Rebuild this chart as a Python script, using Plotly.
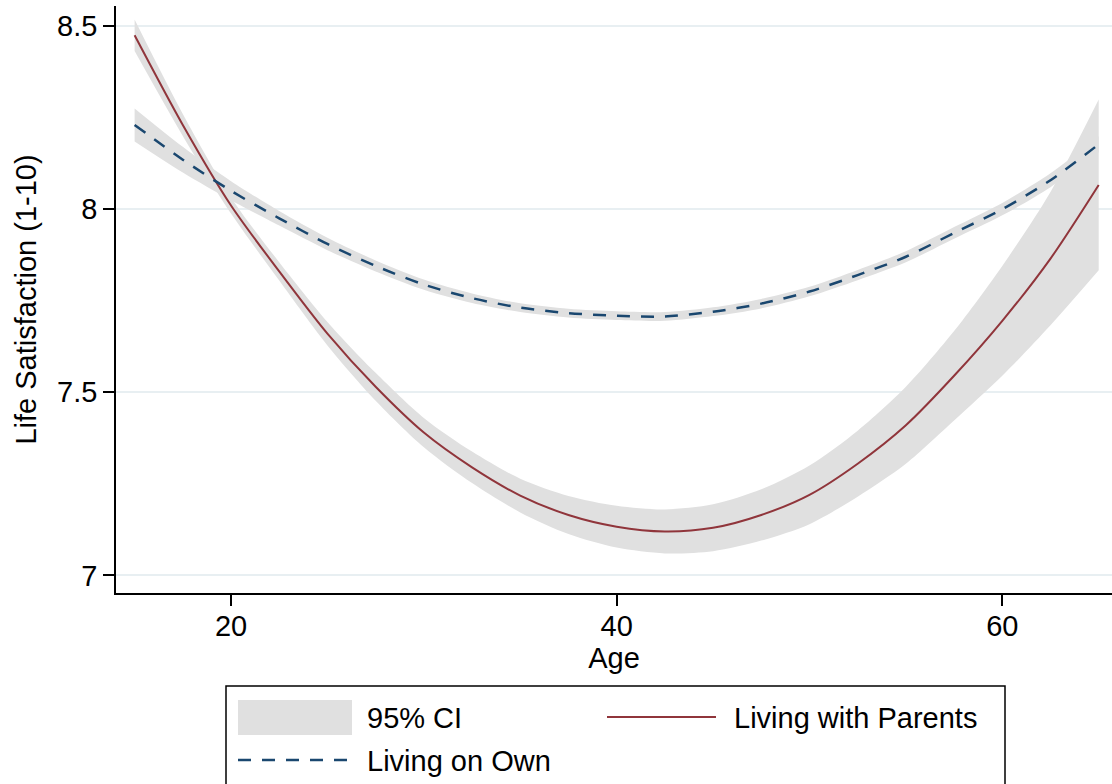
import plotly.graph_objects as go

# ---------------- data ----------------
ages = [15, 17.5, 20, 22.5, 25, 27.5, 30, 32.5, 35, 37.5, 40,
        42.5, 45, 47.5, 50, 52.5, 55, 57.5, 60, 62.5, 65]

# Living with Parents: fitted value and 95% CI half-width
parents = [8.475, 8.23, 8.01, 7.83, 7.66, 7.515, 7.39, 7.295, 7.218, 7.165, 7.133,
           7.120, 7.130, 7.165, 7.220, 7.305, 7.410, 7.545, 7.695, 7.865, 8.066]
parents_ci = [0.043, 0.030, 0.022, 0.025, 0.032, 0.038, 0.040, 0.043, 0.046, 0.052, 0.057,
              0.060, 0.064, 0.070, 0.080, 0.090, 0.105, 0.122, 0.150, 0.182, 0.233]

# Living on Own: fitted value and 95% CI half-width
own = [8.230, 8.135, 8.050, 7.975, 7.905, 7.845, 7.794, 7.757, 7.731, 7.716, 7.709,
       7.707, 7.720, 7.742, 7.775, 7.820, 7.870, 7.935, 8.000, 8.079, 8.177]
own_ci = [0.045, 0.035, 0.026, 0.020, 0.017, 0.015, 0.014, 0.013, 0.012, 0.012, 0.012,
          0.012, 0.012, 0.013, 0.013, 0.014, 0.015, 0.016, 0.017, 0.019, 0.022]

x_ticks = [20, 40, 60]
y_ticks = [7, 7.5, 8, 8.5]
y_tick_labels = ["7", "7.5", "8", "8.5"]

legend_labels = ["95% CI", "Living with Parents", "Living on Own"]

# ---------------- style ----------------
W, H = 1112, 784
ML, MR, MT, MB = 116, 0, 6, 191
FONT = "Liberation Sans, Arial, Helvetica, sans-serif"
FS = 29
RED = "#90353b"
BLUE = "#1a476f"
CI_GRAY = "#e0e0e0"
GRID = "#e8eff2"

plot_w = W - ML - MR
plot_h = H - MT - MB


def px_x(px):
    return (px - ML) / plot_w


def px_y(py):
    return (H - MB - py) / plot_h


fig = go.Figure()


def add_band(mean, half):
    lo = [m - h for m, h in zip(mean, half)]
    hi = [m + h for m, h in zip(mean, half)]
    fig.add_trace(go.Scatter(x=ages, y=lo, mode="lines",
                             line=dict(width=0, shape="spline", smoothing=0.8),
                             hoverinfo="skip", showlegend=False))
    fig.add_trace(go.Scatter(x=ages, y=hi, mode="lines", fill="tonexty",
                             fillcolor=CI_GRAY,
                             line=dict(width=0, shape="spline", smoothing=0.8),
                             name=legend_labels[0], showlegend=False))


add_band(parents, parents_ci)
add_band(own, own_ci)

fig.add_trace(go.Scatter(x=ages, y=parents, mode="lines", name=legend_labels[1],
                         line=dict(color=RED, width=2, shape="spline", smoothing=0.8),
                         showlegend=False))
fig.add_trace(go.Scatter(x=ages, y=own, mode="lines", name=legend_labels[2],
                         line=dict(color=BLUE, width=2.5, dash="13px,11px",
                                   shape="spline", smoothing=0.8),
                         showlegend=False))

# ---------------- manual legend (Stata style) ----------------
shapes = [
    dict(type="rect", xref="paper", yref="paper",
         x0=px_x(226), x1=px_x(1005), y0=px_y(686), y1=px_y(810),
         line=dict(color="black", width=1.5), fillcolor="white", layer="above"),
    dict(type="rect", xref="paper", yref="paper",
         x0=px_x(238), x1=px_x(352), y0=px_y(700), y1=px_y(735),
         line=dict(width=0), fillcolor=CI_GRAY, layer="above"),
    dict(type="line", xref="paper", yref="paper",
         x0=px_x(607), x1=px_x(716), y0=px_y(717), y1=px_y(717),
         line=dict(color=RED, width=2), layer="above"),
    dict(type="line", xref="paper", yref="paper",
         x0=px_x(238), x1=px_x(352), y0=px_y(760), y1=px_y(760),
         line=dict(color=BLUE, width=2.5, dash="13px,11px"), layer="above"),
]

annotations = [
    dict(text=legend_labels[0], x=px_x(365), y=px_y(718)),
    dict(text=legend_labels[1], x=px_x(732), y=px_y(718)),
    dict(text=legend_labels[2], x=px_x(365), y=px_y(761)),
]
for a in annotations:
    a.update(xref="paper", yref="paper", xanchor="left", yanchor="middle",
             showarrow=False, font=dict(family=FONT, size=FS, color="black"))

fig.update_layout(
    width=W, height=H,
    margin=dict(l=ML, r=MR, t=MT, b=MB, pad=0),
    paper_bgcolor="white", plot_bgcolor="white",
    font=dict(family=FONT, size=FS, color="black"),
    showlegend=False,
    shapes=shapes,
    annotations=annotations,
    xaxis=dict(
        range=[14.035, 65.69], tickmode="array", tickvals=x_ticks,
        ticks="outside", ticklen=11, tickwidth=1.5, tickcolor="black",
        showline=True, linecolor="black", linewidth=1.5,
        showgrid=False, zeroline=False, automargin=False,
        tickfont=dict(family=FONT, size=FS), ticklabelstandoff=-5,
        title=dict(text="Age", font=dict(family=FONT, size=FS), standoff=0),
    ),
    yaxis=dict(
        range=[6.952, 8.5546], tickmode="array", tickvals=y_ticks,
        ticktext=y_tick_labels,
        ticks="outside", ticklen=11, tickwidth=1.5, tickcolor="black",
        showline=True, linecolor="black", linewidth=1.5,
        showgrid=True, gridcolor=GRID, gridwidth=1.5, zeroline=False,
        automargin=False,
        tickfont=dict(family=FONT, size=FS),
        title=dict(text="Life Satisfaction (1-10)", font=dict(family=FONT, size=FS),
                   standoff=12),
    ),
)

fig.write_html("out.html",
               config={"displayModeBar": False},
               post_script="document.body.style.margin='0';"
                           "document.body.style.overflow='hidden';")
